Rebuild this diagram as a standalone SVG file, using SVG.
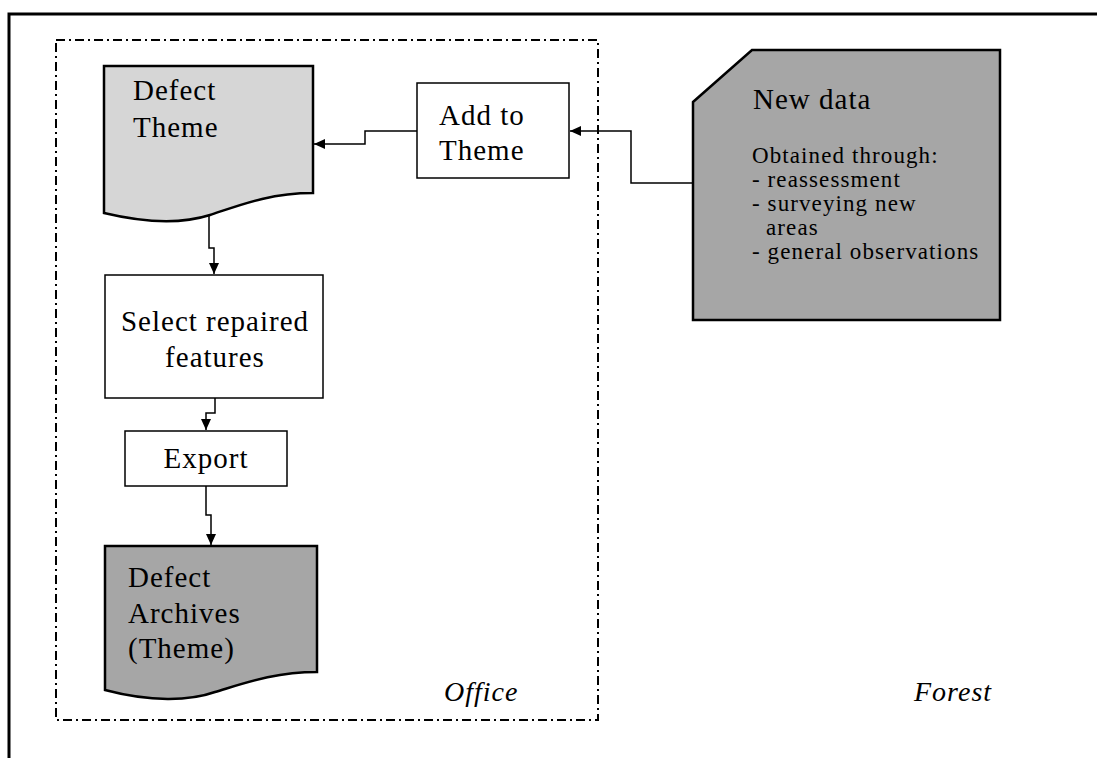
<svg xmlns="http://www.w3.org/2000/svg" width="1097" height="758" viewBox="0 0 1097 758">
  <style>
    .box { fill: #ffffff; stroke: #000000; stroke-width: 1.5; }
    .doc-light { fill: #d6d6d6; stroke: #000000; stroke-width: 2.5; }
    .doc-dark { fill: #a6a6a6; stroke: #000000; stroke-width: 2.5; }
    .lbl { font-family: "Liberation Serif", "Times New Roman", serif; font-size: 29px; letter-spacing: 1px; fill: #000000; }
    .small { font-family: "Liberation Serif", "Times New Roman", serif; font-size: 23px; letter-spacing: 1.1px; fill: #000000; }
    .zone { font-family: "Liberation Serif", "Times New Roman", serif; font-size: 28px; font-style: italic; letter-spacing: 1px; fill: #000000; }
    .edge { fill: none; stroke: #000000; stroke-width: 1.5; marker-end: url(#arrow); }
  </style>
  <defs>
    <marker id="arrow" markerUnits="userSpaceOnUse" markerWidth="12" markerHeight="10" refX="11" refY="5" orient="auto">
      <path d="M0,0 L11,5 L0,10 Z" fill="#000000"/>
    </marker>
  </defs>

  <rect width="1097" height="758" fill="#ffffff"/>

  <!-- page frame (top and left edges) -->
  <path d="M9,758 V14 H1097" fill="none" stroke="#000000" stroke-width="3"/>

  <!-- office boundary -->
  <rect id="office-zone" x="56" y="40" width="542" height="680" fill="none" stroke="#000000" stroke-width="2" stroke-dasharray="9 4 2 4"/>

  <g id="defect-theme">
    <path class="doc-light" d="M104,66 H313 V193 C270,193 240,205 210,215 C185,223 150,224 104,213 Z"/>
    <text class="lbl" x="133" y="100">Defect</text>
    <text class="lbl" x="133" y="137">Theme</text>
  </g>

  <g id="add-to-theme">
    <rect class="box" x="417" y="83" width="152" height="95"/>
    <text class="lbl" x="439" y="125">Add to</text>
    <text class="lbl" x="439" y="160">Theme</text>
  </g>

  <g id="new-data">
    <path class="doc-dark" d="M693,102 L752,50 H1000 V320 H693 Z"/>
    <text class="lbl" x="753" y="109">New data</text>
    <text class="small" x="752" y="163">Obtained through:</text>
    <text class="small" x="752" y="187">- reassessment</text>
    <text class="small" x="752" y="211">- surveying new</text>
    <text class="small" x="766" y="235">areas</text>
    <text class="small" x="752" y="259">- general observations</text>
  </g>

  <g id="select-repaired">
    <rect class="box" x="105" y="275" width="218" height="123"/>
    <text class="lbl" x="215" y="331" text-anchor="middle">Select repaired</text>
    <text class="lbl" x="215" y="367" text-anchor="middle">features</text>
  </g>

  <g id="export">
    <rect class="box" x="125" y="431" width="162" height="55"/>
    <text class="lbl" x="206" y="468" text-anchor="middle">Export</text>
  </g>

  <g id="defect-archives">
    <path class="doc-dark" d="M105,546 H317 V672 C275,672 245,683 215,692 C190,701 150,702 105,690 Z"/>
    <text class="lbl" x="128" y="587">Defect</text>
    <text class="lbl" x="128" y="623">Archives</text>
    <text class="lbl" x="128" y="658">(Theme)</text>
  </g>

  <g id="zone-labels">
    <text class="zone" x="444" y="701">Office</text>
    <text class="zone" x="914" y="701">Forest</text>
  </g>

  <g id="connectors">
    <path class="edge" d="M693,183 H631 V131 H570"/>
    <path class="edge" d="M417,131 H365 V144 H314"/>
    <path class="edge" d="M209,215 V248 H214 V274"/>
    <path class="edge" d="M215,398 V413 H206 V430"/>
    <path class="edge" d="M206,486 V515 H211 V545"/>
  </g>
</svg>
